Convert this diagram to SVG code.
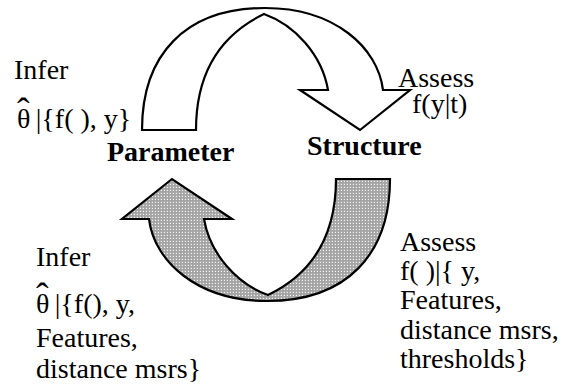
<svg xmlns="http://www.w3.org/2000/svg" width="573" height="391" viewBox="0 0 573 391">
<style>
text { font-family: 'Liberation Serif', 'Times New Roman', serif; font-size: 28px; fill: #000; }
.b { font-weight: bold; }
.hat { font-size: 38px; }
.arrow { stroke: #000; stroke-width: 2.2; stroke-linejoin: miter; }
</style>
<defs>
<pattern id="dots" width="3" height="3" patternUnits="userSpaceOnUse">
<rect width="3" height="3" fill="#a4a4a4"/>
<rect x="1" y="1" width="1.2" height="1.2" fill="#f2f2f2"/>
</pattern>
<path id="curved" d="M142,130 C142,55 185,8 265,8 C335,8 378,48 383,90 L410,90 L360,130 L300,90 L328,90 C322,55 295,25 264,14 C210,40 196,85 196,130 Z"/>
</defs>
<rect width="573" height="391" fill="#fff"/>
<g id="connectors">
<use id="arrow-top" href="#curved" class="arrow" fill="#fff"/>
<use id="arrow-bottom" href="#curved" class="arrow" fill="url(#dots)" transform="rotate(180 266 154.5)"/>
</g>
<g id="node-parameter"><text class="b" x="107" y="161">Parameter</text></g>
<g id="node-structure"><text class="b" x="307" y="155">Structure</text></g>
<g id="label-top-left">
<text x="14" y="79">Infer</text>
<text x="17" y="128">θ<tspan class="hat" dx="-13.3" dy="-4">ˆ</tspan><tspan dx="6" dy="4">|{f( ), y}</tspan></text>
</g>
<g id="label-top-right">
<text x="398" y="87">Assess</text>
<text x="412" y="113">f(y|t)</text>
</g>
<g id="label-bottom-left">
<text x="36" y="266">Infer</text>
<text x="36" y="313">θ<tspan class="hat" dx="-13.3" dy="-4">ˆ</tspan><tspan dx="6" dy="4">|{f(), y,</tspan></text>
<text x="36" y="347">Features,</text>
<text x="36" y="378">distance msrs}</text>
</g>
<g id="label-bottom-right">
<text x="400" y="251">Assess</text>
<text x="400" y="280">f( )|{ y,</text>
<text x="400" y="309">Features,</text>
<text x="400" y="339">distance msrs,</text>
<text x="400" y="368">thresholds}</text>
</g>
</svg>
